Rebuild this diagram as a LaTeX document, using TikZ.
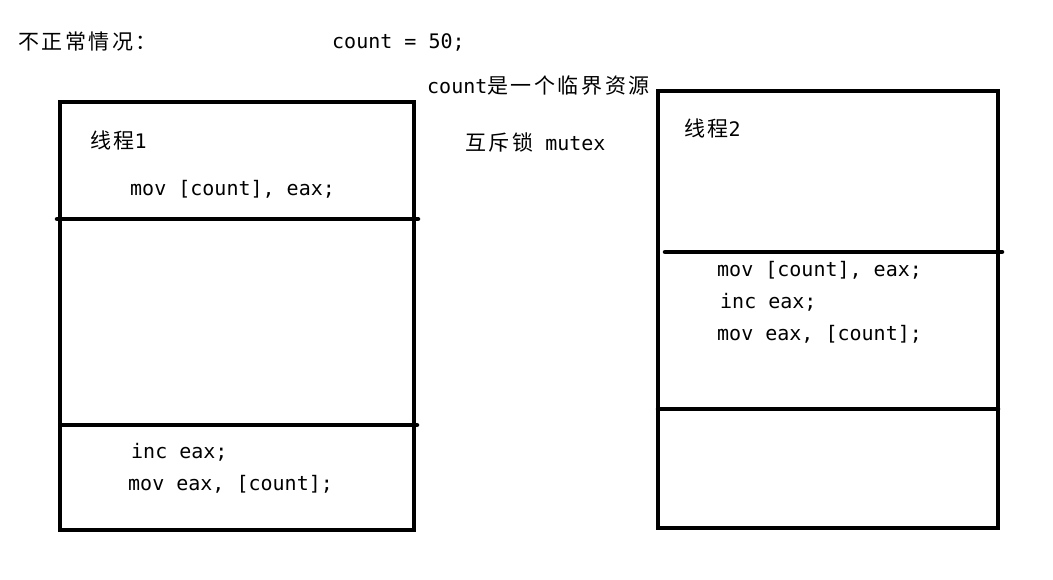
\documentclass[tikz,border=0pt]{standalone}
\usepackage{fontspec}
\newfontfamily\zhfam[LetterSpace=12]{Noto Sans CJK SC}
\newfontfamily\mofam{DejaVu Sans Mono}
\newcommand\zhf{\zhfam\fontsize{21}{24}\selectfont}
\newcommand\mof{\mofam\fontsize{20}{24}\selectfont}
\begin{document}
\begin{tikzpicture}[x=1pt,y=-1pt,
  txt/.style={inner sep=0pt, anchor=west, font=\mof},
  zhtxt/.style={inner sep=0pt, anchor=west, font=\zhf},
  frame/.style={line width=4.5pt},
  divider/.style={line width=4.5pt, line cap=round}]
\fill[white] (0,0) rectangle (1053,580);
\useasboundingbox (0,0) rectangle (1053,580);
% titles
\node[zhtxt] (title) at (18,42) {不正常情况：};
\node[txt] (cnt) at (332,42) {count = 50;};
\node[txt] (crit) at (427,86) {count{\zhf 是一个临界资源}};
\node[txt] (mutex) at (465,143) {{\zhf 互斥锁} mutex};
% thread 1
\draw[frame] (60,102) rectangle (414,530);
\draw[divider] (57,219) -- (418,219);
\draw[divider] (62,425) -- (417,425);
\node[txt] (t1) at (90,140) {{\zhf 线程}1};
\node[txt] (t1a) at (130,189) {mov [count], eax;};
\node[txt] (t1b) at (131,452) {inc eax;};
\node[txt] (t1c) at (128,484) {mov eax, [count];};
% thread 2
\draw[frame] (658,91) rectangle (998,528);
\draw[divider] (665,252) -- (1002,252);
\draw[divider] (658,409) -- (998,409);
\node[txt] (t2) at (684,128) {{\zhf 线程}2};
\node[txt] (t2a) at (717,270) {mov [count], eax;};
\node[txt] (t2b) at (720,302) {inc eax;};
\node[txt] (t2c) at (717,334) {mov eax, [count];};
\end{tikzpicture}
\end{document}
